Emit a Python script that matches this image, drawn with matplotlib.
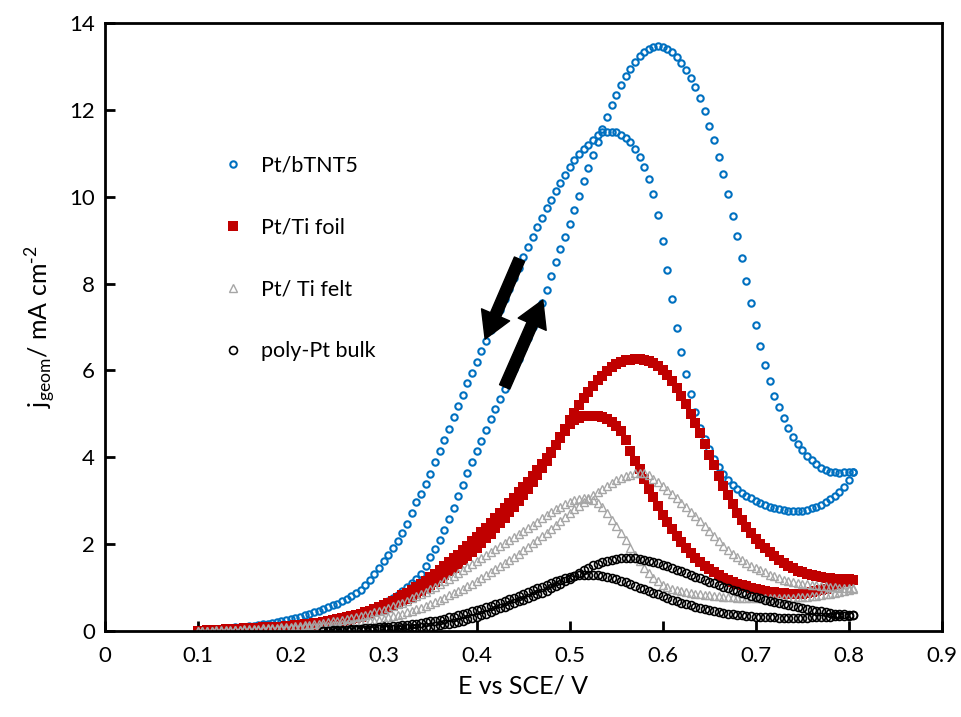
import numpy as np
import matplotlib
matplotlib.use('Agg')
import matplotlib.pyplot as plt

plt.rcParams['font.family'] = ['Lato', 'DejaVu Sans']

# potential sweep, 5 mV steps from 0.100 to 0.805 V
E = np.round(np.arange(0.100, 0.8051, 0.005), 3)

# Pt/bTNT5 (values listed at increasing E for both scan directions)
btnt_fwd = [0.00, 0.01, 0.01, 0.02, 0.02, 0.03, 0.03, 0.04, 0.04, 0.05,
            0.05, 0.06, 0.06, 0.07, 0.07, 0.08, 0.09, 0.09, 0.10, 0.11,
            0.12, 0.13, 0.14, 0.15, 0.16, 0.18, 0.19, 0.21, 0.23, 0.25,
            0.27, 0.29, 0.32, 0.35, 0.38, 0.41, 0.45, 0.49, 0.53, 0.57,
            0.62, 0.68, 0.75, 0.83, 0.92, 1.01, 1.10, 1.19, 1.32, 1.50,
            1.70, 1.88, 2.10, 2.33, 2.57, 2.83, 3.10, 3.37, 3.63, 3.88,
            4.14, 4.38, 4.62, 4.88, 5.12, 5.35, 5.57, 5.80, 6.03, 6.27,
            6.51, 6.75, 7.00, 7.25, 7.55, 7.86, 8.18, 8.49, 8.79, 9.08,
            9.38, 9.70, 10.02, 10.35, 10.66, 10.95, 11.25, 11.55, 11.84, 12.10,
            12.35, 12.58, 12.78, 12.95, 13.11, 13.23, 13.32, 13.39, 13.44, 13.46,
            13.45, 13.40, 13.32, 13.22, 13.08, 12.92, 12.74, 12.52, 12.27, 11.98,
            11.62, 11.30, 10.92, 10.52, 10.05, 9.56, 9.10, 8.59, 8.06, 7.55,
            7.05, 6.55, 6.12, 5.75, 5.42, 5.15, 4.90, 4.67, 4.47, 4.31,
            4.17, 4.04, 3.93, 3.84, 3.76, 3.71, 3.67, 3.65, 3.64, 3.65,
            3.66, 3.67]
btnt_rev = [0.01, 0.02, 0.02, 0.03, 0.04, 0.05, 0.06, 0.07, 0.08, 0.09,
            0.10, 0.11, 0.12, 0.14, 0.15, 0.17, 0.19, 0.21, 0.23, 0.25,
            0.27, 0.30, 0.33, 0.36, 0.40, 0.43, 0.47, 0.51, 0.55, 0.59,
            0.63, 0.68, 0.74, 0.80, 0.87, 0.95, 1.06, 1.18, 1.31, 1.45,
            1.60, 1.76, 1.92, 2.07, 2.25, 2.47, 2.72, 2.97, 3.15, 3.38,
            3.62, 3.88, 4.14, 4.40, 4.66, 4.92, 5.18, 5.44, 5.70, 5.95,
            6.20, 6.44, 6.68, 6.92, 7.16, 7.40, 7.64, 7.88, 8.12, 8.36,
            8.61, 8.85, 9.08, 9.30, 9.52, 9.73, 9.93, 10.13, 10.32, 10.50,
            10.68, 10.84, 10.98, 11.10, 11.20, 11.30, 11.42, 11.48, 11.50, 11.50,
            11.48, 11.43, 11.36, 11.25, 11.10, 10.92, 10.68, 10.40, 10.05, 9.58,
            8.98, 8.30, 7.65, 6.98, 6.42, 5.92, 5.45, 5.05, 4.68, 4.42,
            4.18, 3.97, 3.78, 3.61, 3.47, 3.35, 3.26, 3.18, 3.11, 3.05,
            2.99, 2.94, 2.90, 2.86, 2.83, 2.80, 2.78, 2.77, 2.76, 2.76,
            2.77, 2.79, 2.82, 2.86, 2.91, 2.97, 3.03, 3.10, 3.19, 3.32,
            3.48, 3.66]

# Pt/Ti foil
foil_fwd = [0.00, 0.00, 0.01, 0.01, 0.01, 0.02, 0.02, 0.02, 0.03, 0.03,
            0.03, 0.04, 0.04, 0.05, 0.05, 0.06, 0.06, 0.07, 0.07, 0.08,
            0.09, 0.10, 0.11, 0.12, 0.13, 0.14, 0.15, 0.16, 0.18, 0.20,
            0.22, 0.24, 0.26, 0.28, 0.30, 0.33, 0.36, 0.39, 0.43, 0.46,
            0.50, 0.54, 0.58, 0.63, 0.68, 0.73, 0.79, 0.85, 0.92, 0.99,
            1.06, 1.13, 1.21, 1.29, 1.37, 1.45, 1.54, 1.63, 1.72, 1.82,
            1.92, 2.02, 2.13, 2.24, 2.36, 2.48, 2.60, 2.73, 2.86, 2.99,
            3.13, 3.27, 3.42, 3.58, 3.75, 3.92, 4.10, 4.28, 4.47, 4.66,
            4.85, 5.03, 5.20, 5.36, 5.50, 5.64, 5.77, 5.88, 5.98, 6.07,
            6.14, 6.19, 6.23, 6.25, 6.26, 6.26, 6.24, 6.21, 6.16, 6.09,
            6.00, 5.89, 5.76, 5.60, 5.42, 5.22, 5.00, 4.78, 4.56, 4.31,
            4.06, 3.81, 3.56, 3.34, 3.13, 2.92, 2.72, 2.55, 2.40, 2.25,
            2.12, 2.00, 1.90, 1.81, 1.72, 1.64, 1.56, 1.50, 1.44, 1.39,
            1.35, 1.31, 1.28, 1.26, 1.24, 1.22, 1.21, 1.20, 1.20, 1.19,
            1.19, 1.18]
foil_rev = [0.01, 0.01, 0.02, 0.02, 0.03, 0.03, 0.04, 0.04, 0.05, 0.05,
            0.06, 0.06, 0.07, 0.07, 0.08, 0.08, 0.09, 0.10, 0.10, 0.11,
            0.12, 0.13, 0.14, 0.15, 0.16, 0.18, 0.19, 0.21, 0.23, 0.25,
            0.27, 0.29, 0.31, 0.34, 0.37, 0.40, 0.43, 0.47, 0.51, 0.55,
            0.60, 0.65, 0.70, 0.76, 0.82, 0.88, 0.95, 1.02, 1.09, 1.16,
            1.24, 1.32, 1.40, 1.49, 1.58, 1.67, 1.76, 1.86, 1.96, 2.06,
            2.16, 2.27, 2.38, 2.49, 2.60, 2.71, 2.83, 2.95, 3.07, 3.19,
            3.31, 3.44, 3.57, 3.70, 3.84, 3.98, 4.13, 4.28, 4.45, 4.61,
            4.76, 4.85, 4.91, 4.94, 4.96, 4.96, 4.95, 4.93, 4.88, 4.82,
            4.72, 4.60, 4.40, 4.15, 3.92, 3.72, 3.50, 3.28, 3.08, 2.88,
            2.68, 2.50, 2.34, 2.19, 2.05, 1.92, 1.80, 1.69, 1.59, 1.50,
            1.42, 1.35, 1.28, 1.22, 1.17, 1.13, 1.09, 1.06, 1.03, 1.00,
            0.97, 0.95, 0.92, 0.90, 0.89, 0.88, 0.87, 0.86, 0.86, 0.85,
            0.86, 0.87, 0.89, 0.91, 0.94, 0.97, 1.01, 1.05, 1.09, 1.12,
            1.15, 1.17]

# Pt/ Ti felt
felt_fwd = [0.00, 0.00, 0.00, 0.01, 0.01, 0.01, 0.01, 0.01, 0.02, 0.02,
            0.02, 0.02, 0.03, 0.03, 0.03, 0.04, 0.04, 0.04, 0.05, 0.05,
            0.06, 0.06, 0.07, 0.08, 0.08, 0.09, 0.10, 0.11, 0.12, 0.13,
            0.14, 0.15, 0.16, 0.17, 0.18, 0.19, 0.20, 0.22, 0.24, 0.26,
            0.28, 0.31, 0.34, 0.37, 0.40, 0.43, 0.46, 0.50, 0.54, 0.58,
            0.62, 0.67, 0.72, 0.77, 0.82, 0.87, 0.92, 0.97, 1.03, 1.09,
            1.15, 1.22, 1.29, 1.36, 1.43, 1.50, 1.57, 1.64, 1.71, 1.78,
            1.86, 1.94, 2.02, 2.10, 2.18, 2.26, 2.35, 2.44, 2.53, 2.62,
            2.71, 2.80, 2.88, 2.96, 3.04, 3.12, 3.20, 3.27, 3.34, 3.41,
            3.47, 3.52, 3.56, 3.60, 3.63, 3.64, 3.63, 3.58, 3.51, 3.43,
            3.34, 3.25, 3.15, 3.05, 2.95, 2.85, 2.75, 2.65, 2.54, 2.42,
            2.30, 2.18, 2.06, 1.95, 1.86, 1.78, 1.70, 1.63, 1.56, 1.50,
            1.45, 1.40, 1.35, 1.30, 1.26, 1.22, 1.18, 1.15, 1.12, 1.10,
            1.08, 1.07, 1.06, 1.05, 1.04, 1.03, 1.02, 1.01, 1.00, 1.00,
            0.99, 0.99]
felt_rev = [0.00, 0.01, 0.01, 0.01, 0.02, 0.02, 0.02, 0.03, 0.03, 0.03,
            0.04, 0.04, 0.05, 0.05, 0.06, 0.06, 0.07, 0.07, 0.08, 0.09,
            0.10, 0.11, 0.12, 0.13, 0.14, 0.15, 0.17, 0.18, 0.20, 0.22,
            0.24, 0.26, 0.28, 0.30, 0.32, 0.35, 0.37, 0.40, 0.43, 0.46,
            0.49, 0.53, 0.57, 0.61, 0.65, 0.70, 0.75, 0.80, 0.85, 0.90,
            0.96, 1.02, 1.08, 1.14, 1.20, 1.26, 1.33, 1.40, 1.47, 1.54,
            1.61, 1.68, 1.75, 1.82, 1.89, 1.96, 2.03, 2.10, 2.17, 2.24,
            2.31, 2.38, 2.45, 2.52, 2.59, 2.66, 2.73, 2.80, 2.86, 2.92,
            2.97, 3.01, 3.04, 3.05, 3.05, 3.02, 2.95, 2.85, 2.72, 2.56,
            2.42, 2.26, 2.10, 1.92, 1.76, 1.60, 1.46, 1.34, 1.23, 1.15,
            1.05, 1.01, 0.97, 0.94, 0.92, 0.90, 0.88, 0.86, 0.84, 0.83,
            0.82, 0.81, 0.80, 0.79, 0.78, 0.78, 0.77, 0.77, 0.77, 0.77,
            0.77, 0.77, 0.77, 0.77, 0.77, 0.77, 0.77, 0.77, 0.77, 0.78,
            0.78, 0.79, 0.80, 0.81, 0.82, 0.84, 0.86, 0.88, 0.90, 0.93,
            0.95, 0.97]

# poly-Pt bulk (recorded from 0.235 V)
bulk_fwd = [0.00, 0.01, 0.01,
            0.01, 0.01, 0.02, 0.02, 0.02, 0.03, 0.03, 0.03, 0.04, 0.04,
            0.04, 0.04, 0.05, 0.05, 0.06, 0.06, 0.07, 0.07, 0.08, 0.09,
            0.10, 0.11, 0.13, 0.15, 0.17, 0.19, 0.21, 0.24, 0.27, 0.30,
            0.33, 0.36, 0.40, 0.44, 0.48, 0.52, 0.56, 0.60, 0.64, 0.68,
            0.72, 0.76, 0.80, 0.84, 0.88, 0.93, 0.98, 1.03, 1.08, 1.14,
            1.20, 1.27, 1.34, 1.40, 1.46, 1.51, 1.55, 1.59, 1.62, 1.64,
            1.66, 1.67, 1.68, 1.68, 1.67, 1.66, 1.64, 1.62, 1.59, 1.56,
            1.53, 1.49, 1.45, 1.41, 1.37, 1.33, 1.29, 1.25, 1.21, 1.17,
            1.13, 1.10, 1.06, 1.02, 0.99, 0.95, 0.92, 0.88, 0.85, 0.81,
            0.78, 0.75, 0.72, 0.69, 0.67, 0.64, 0.62, 0.60, 0.57, 0.55,
            0.53, 0.51, 0.49, 0.47, 0.45, 0.43, 0.42, 0.40, 0.39, 0.38,
            0.37, 0.36]
bulk_rev = [0.01, 0.01, 0.02,
            0.02, 0.03, 0.03, 0.04, 0.04, 0.05, 0.06, 0.06, 0.07, 0.08,
            0.09, 0.10, 0.11, 0.12, 0.13, 0.14, 0.15, 0.17, 0.18, 0.20,
            0.22, 0.24, 0.26, 0.28, 0.31, 0.33, 0.36, 0.39, 0.42, 0.45,
            0.48, 0.51, 0.55, 0.58, 0.62, 0.65, 0.69, 0.73, 0.77, 0.81,
            0.85, 0.89, 0.94, 0.98, 1.02, 1.06, 1.10, 1.14, 1.18, 1.22,
            1.25, 1.27, 1.29, 1.30, 1.30, 1.30, 1.29, 1.27, 1.25, 1.22,
            1.19, 1.16, 1.12, 1.08, 1.04, 1.00, 0.96, 0.92, 0.88, 0.84,
            0.80, 0.76, 0.72, 0.68, 0.65, 0.62, 0.59, 0.56, 0.53, 0.50,
            0.48, 0.46, 0.44, 0.42, 0.40, 0.38, 0.37, 0.36, 0.35, 0.34,
            0.33, 0.32, 0.32, 0.31, 0.31, 0.30, 0.30, 0.30, 0.30, 0.30,
            0.30, 0.30, 0.31, 0.31, 0.32, 0.32, 0.33, 0.34, 0.34, 0.35,
            0.35, 0.36]
E_bulk = E[-len(bulk_fwd):]

fig = plt.figure(figsize=(9.61, 7.17), dpi=100)
ax = fig.add_axes([0.109, 0.12, 0.871, 0.848])

# Pt/bTNT5
ax.plot(E, btnt_fwd, ls='none', marker='o', ms=4.6, mfc='none', mec='#0070C0', mew=1.5,
        label='Pt/bTNT5')
ax.plot(E, btnt_rev, ls='none', marker='o', ms=4.6, mfc='none', mec='#0070C0', mew=1.5)
# Pt/Ti foil
ax.plot(E, foil_fwd, ls='none', marker='s', ms=6.8, mfc='#C00000', mec='#C00000', mew=0,
        label='Pt/Ti foil')
ax.plot(E, foil_rev, ls='none', marker='s', ms=6.8, mfc='#C00000', mec='#C00000', mew=0)
# Pt/ Ti felt
ax.plot(E, felt_fwd, ls='none', marker='^', ms=6.2, mfc='none', mec='#A6A6A6', mew=1.0,
        label='Pt/ Ti felt')
ax.plot(E, felt_rev, ls='none', marker='^', ms=6.2, mfc='none', mec='#A6A6A6', mew=1.0)
# poly-Pt bulk
ax.plot(E_bulk, bulk_fwd, ls='none', marker='o', ms=5.7, mfc='none', mec='black', mew=1.2,
        label='poly-Pt bulk')
ax.plot(E_bulk, bulk_rev, ls='none', marker='o', ms=5.7, mfc='none', mec='black', mew=1.2)

# scan direction arrows
arrow_kw = dict(facecolor='black', edgecolor='black', width=8, headwidth=22,
                headlength=19, shrink=0)
ax.annotate('', xy=(0.409, 6.72), xytext=(0.446, 8.56), arrowprops=arrow_kw)
ax.annotate('', xy=(0.471, 7.62), xytext=(0.430, 5.62), arrowprops=arrow_kw)

ax.set_xlim(0, 0.9)
ax.set_ylim(0, 14)
ax.set_xticks(np.arange(0, 0.91, 0.1))
ax.set_xticklabels(['0', '0.1', '0.2', '0.3', '0.4', '0.5', '0.6', '0.7', '0.8', '0.9'])
ax.set_yticks(range(0, 15, 2))
ax.tick_params(direction='in', length=7, width=2, labelsize=16, top=False, right=False)
ax.tick_params(axis='x', pad=11)
ax.tick_params(axis='y', pad=7)
for s in ax.spines.values():
    s.set_linewidth(2)

ax.set_xlabel('E vs SCE/ V', fontsize=18, labelpad=6)
ax.set_ylabel(r'j$_{\mathregular{geom}}$/ mA cm$^{\mathregular{\text{-}2}}$', fontsize=18,
              labelpad=8)

ax.legend(loc='upper left', bbox_to_anchor=(0.13, 0.8), frameon=False, fontsize=15.5,
          numpoints=1, handlelength=0.8, handletextpad=0.9, labelspacing=1.95,
          borderpad=0)

fig.savefig('out.png', dpi=100)
